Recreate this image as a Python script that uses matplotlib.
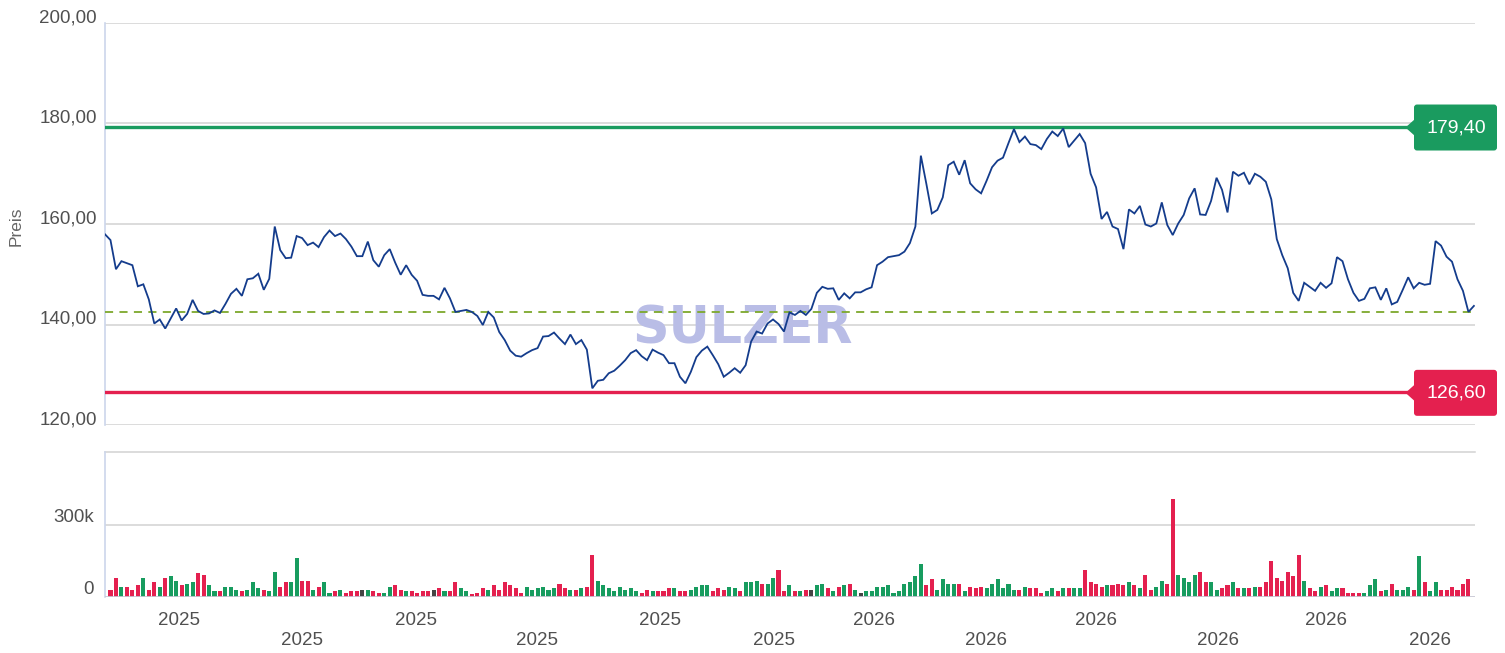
import numpy as np
import matplotlib
matplotlib.use('Agg')
import matplotlib.pyplot as plt
from matplotlib.patches import Polygon, FancyBboxPatch
from matplotlib.transforms import ScaledTranslation, blended_transform_factory, IdentityTransform

plt.rcParams['font.family'] = ['Liberation Sans', 'DejaVu Sans']

# ---------------- data ----------------
price = [
    157.95, 156.8, 151.0, 152.6, 152.2, 151.8, 147.6, 148.0, 145.0, 140.2,
    141.0, 139.2, 141.2, 143.2, 140.8, 142.1, 144.9, 142.7, 142.1, 142.2,
    142.8, 142.3, 144.1, 146.1, 147.1, 145.7, 149.0, 149.2, 150.1, 146.9,
    149.1, 159.5, 154.8, 153.2, 153.3, 157.6, 157.2, 155.8, 156.3, 155.4,
    157.4, 158.7, 157.6, 158.1,
    157.0, 155.5, 153.6, 153.6, 156.5, 152.8, 151.5, 153.8, 155.0, 152.3,
    149.9, 151.8, 149.9, 148.7, 145.9, 145.7, 145.7, 145.0, 147.3, 145.2,
    142.5, 142.7, 142.9, 142.5, 141.7, 139.9, 142.5, 141.4, 138.5, 136.9,
    134.8, 133.8, 133.6, 134.3, 134.9, 135.3, 137.6, 137.7, 138.4, 137.2,
    136.1, 138.0, 136.1,
    136.9, 135.0, 127.3, 128.8, 129.0, 130.3, 130.8, 131.8, 132.9, 134.3,
    134.9, 133.7, 132.9, 135.0, 134.4, 133.9, 132.3, 132.3, 129.6, 128.3,
    130.6, 133.5, 134.8, 135.6, 133.9, 132.1, 129.6, 130.4, 131.3, 130.4,
    131.9, 136.6, 138.6, 138.2, 140.2, 141.0, 140.1, 138.6, 142.4, 141.9,
    142.7, 141.9,
    143.1, 146.3, 147.5, 147.1, 147.2, 144.9, 146.2, 145.2, 146.4, 146.4,
    147.0, 147.4, 151.8, 152.5, 153.4, 153.6, 153.8, 154.5, 156.2, 159.5,
    173.6, 168.0, 162.1, 162.8, 165.3, 171.7, 172.4, 169.8, 172.7, 168.1,
    166.9, 166.1, 168.6, 171.3, 172.6, 173.2, 176.1, 178.9, 176.3, 177.4,
    175.9, 175.7, 174.9,
    176.9, 178.4, 177.5, 179.0, 175.3, 176.6, 177.9, 176.1, 170.0, 167.3,
    161.0, 162.4, 159.5, 159.0, 155.0, 162.9, 162.1, 163.6, 159.9, 159.5,
    160.1, 164.3, 159.8, 157.8, 160.1, 161.8, 165.1, 167.1, 161.9, 161.8,
    164.6, 169.2, 166.8, 162.3, 170.4, 169.6, 170.2, 167.9, 170.0, 169.4,
    168.4, 164.9,
    157.0, 153.8, 151.2, 146.3, 144.7, 148.3, 147.5, 146.7, 148.3, 147.3,
    148.2, 153.4, 152.6, 149.0, 146.3, 144.7, 145.1, 147.2, 147.4, 144.9,
    147.2, 144.0, 144.5, 146.9, 149.4, 147.2, 148.3, 147.9, 148.1, 156.6,
    155.7, 153.5, 152.5, 149.0, 146.7, 142.5, 143.7,
]

volume_k = [
    28, 79, 41, 41, 28, 49, 79, 28, 62, 41,
    79, 87, 66, 49, 53, 62, 100, 91, 49, 24,
    24, 41, 41, 28, 24, 28, 62, 36, 28, 24,
    104, 41, 62, 62, 163, 66, 66, 28, 41, 62,
    15, 24, 28, 15, 24, 24, 28, 28, 24, 15,
    15, 41, 49, 28, 24, 24, 15, 24, 24, 28,
    36, 24, 24, 62, 36, 24, 11, 15, 36, 28,
    49, 28, 62, 49, 36, 15, 41, 28, 36, 41,
    28, 36, 53, 36, 28, 28, 36, 41, 175, 66,
    49, 36, 24, 41, 28, 36, 24, 15, 28, 24,
    24, 24, 36, 36, 24, 24, 28, 41, 49, 49,
    24, 36, 28, 41, 36, 24, 62, 62, 66, 53,
    53, 79, 112, 24, 49, 24, 24, 28, 28, 49,
    53, 36, 24, 41, 49, 53, 28, 15, 24, 24,
    41, 41, 49, 15, 24, 53, 62, 87, 137, 49,
    74, 28, 74, 53, 53, 53, 24, 41, 36, 41,
    36, 53, 74, 36, 53, 28, 28, 41, 36, 36,
    15, 24, 36, 24, 36, 36, 36, 36, 112, 62,
    53, 41, 49, 49, 53, 49, 62, 49, 36, 91,
    28, 41, 66, 53, 407, 91, 79, 62, 91, 104,
    62, 62, 28, 36, 49, 62, 36, 36, 36, 41,
    41, 62, 150, 79, 66, 104, 87, 175, 66, 36,
    24, 41, 49, 24, 36, 36, 15, 15, 15, 15,
    49, 74, 24, 28, 53, 28, 28, 41, 28, 171,
    62, 24, 62, 28, 28, 41, 28, 53, 74,
]

# r = down day, g = up day, k = unchanged
bar_dirs = (
    "rrgrrrgrrg" "rggrggrrgg" "rgggrgggrg" "grrggrrgrg" "grgrrrkgrr"
    "ggrrgrrrrk" "rgrrggrrrg" "rrrrrrgggg" "ggrrgrgrrg" "gggggggrrg"
    "rrrgrrgggg" "rrrggrgggr" "ggrrgrgrkg" "grgrgrgkgg" "gggggggggr"
    "rggggrgrrr" "ggggggrgrr" "rggrgrggrr" "rrgrrrgrgr" "rggrrggggr"
    "rggrrgrgrg" "rrrrrrrrgr" "rgrggrrrrg" "ggrgrgggrg" "rggrrrrrr"
)

resistance = 179.40
support = 126.60
reference_level = 142.5

price_ticks = [120, 140, 160, 180, 200]
vol_ticks = [0, 300000]
vol_tick_labels = ['0', '300k']
vol_max = 600000

year_row1 = ['2025', '2025', '2025', '2026', '2026', '2026']
year_row1_pos = [13.6, 56.8, 101.3, 140.4, 180.9, 222.9]
year_row2 = ['2025', '2025', '2025', '2026', '2026', '2026']
year_row2_pos = [35.9, 78.9, 122.1, 160.9, 203.3, 242.0]

watermark = 'SULZER'

# ---------------- layout ----------------
W, H = 1505, 653
fig = plt.figure(figsize=(W / 100, H / 100), dpi=100)
fig.patch.set_facecolor('white')

ax_l, ax_r = 105, 1475
p_top, p_bot = 23, 425
v_top, v_bot = 452.3, 597

ax = fig.add_axes([ax_l / W, 1 - p_bot / H, (ax_r - ax_l) / W, (p_bot - p_top) / H])
axv = fig.add_axes([ax_l / W, 1 - v_bot / H, (ax_r - ax_l) / W, (v_bot - v_top) / H])

n = len(price)
xmax = n - 1 + 0.2
x_price = np.arange(n)

GRID = '#d2d2d2'
AXIS_BLUE = '#ccd6eb'
TXT = '#505050'

# ---- price panel ----
ax.set_xlim(0, xmax)
ax.set_ylim(price_ticks[0], price_ticks[-1])
for t in price_ticks:
    ax.axhline(t, color=GRID, lw=1.1, zorder=1)
ax.axhline(resistance, color='#1a9b5f', lw=2.4, zorder=3)
ax.axhline(support, color='#e4204f', lw=2.4, zorder=3)
ax.axhline(reference_level, color='#7da82c', lw=1.3, ls=(0, (4.5, 3.5)), zorder=3)
ax.text((743 - ax_l) / (ax_r - ax_l), (p_bot - 329) / (p_bot - p_top), watermark,
        transform=ax.transAxes, ha='center', va='center', fontsize=36.5,
        fontweight='heavy', family='DejaVu Sans', color='#b9bde6', zorder=2)
ax.plot(x_price, price, color='#143c8c', lw=1.3, zorder=5, solid_joinstyle='miter')

for s in ['top', 'right', 'bottom']:
    ax.spines[s].set_visible(False)
ax.spines['left'].set_color(AXIS_BLUE)
ax.spines['left'].set_linewidth(1.2)
ax.set_xticks([])
ax.set_yticks(price_ticks, labels=[f"{t:.2f}".replace('.', ',') for t in price_ticks])
ax.tick_params(axis='y', length=0, pad=6, labelsize=13.5, labelcolor=TXT)
for lab in ax.get_yticklabels():
    lab.set_transform(lab.get_transform() + ScaledTranslation(0, 0.07, fig.dpi_scale_trans))
ax.set_ylabel('Preis', fontsize=12.5, color='#666666')
ax.yaxis.set_label_coords(-(ax_l - 24) / (ax_r - ax_l), (p_bot - 226) / (p_bot - p_top))

# ---- volume panel ----
colmap = {'r': '#e4204f', 'g': '#179c5f', 'k': '#444444'}
x_vol = np.arange(1, len(volume_k) + 1)
axv.set_xlim(0, xmax)
axv.set_ylim(0, vol_max)
axv.axhline(300000, color=GRID, lw=1.1, zorder=1)
axv.axhline(vol_max, color=GRID, lw=1.1, zorder=1, clip_on=False)
axv.bar(x_vol, np.array(volume_k) * 1000, width=0.74,
        color=[colmap[c] for c in bar_dirs], zorder=3, linewidth=0)
axv.axhline(0, color='#c7c7d4', lw=2.0, zorder=4)
for s in ['top', 'right', 'bottom']:
    axv.spines[s].set_visible(False)
axv.spines['left'].set_color(AXIS_BLUE)
axv.spines['left'].set_linewidth(1.2)
axv.set_yticks(vol_ticks, labels=vol_tick_labels)
axv.tick_params(axis='y', length=0, pad=8, labelsize=13.5, labelcolor=TXT)
for lab in axv.get_yticklabels():
    lab.set_transform(lab.get_transform() + ScaledTranslation(0, 0.09, fig.dpi_scale_trans))
axv.set_xticks([])
bt = blended_transform_factory(axv.transData, axv.transAxes)
vh = v_bot - v_top
for pos, lab in zip(year_row1_pos, year_row1):
    axv.text(pos, -(625 - v_bot) / vh, lab, transform=bt, ha='center', va='baseline',
             fontsize=13.5, color=TXT)
for pos, lab in zip(year_row2_pos, year_row2):
    axv.text(pos, -(645 - v_bot) / vh, lab, transform=bt, ha='center', va='baseline',
             fontsize=13.5, color=TXT)

# ---- level flags (pixel coordinates, origin bottom-left) ----
def level_px(v):
    return p_bot - (v - price_ticks[0]) * (p_bot - p_top) / (price_ticks[-1] - price_ticks[0])

def flag(value, color):
    yc = H - (level_px(value) + 1)
    box = FancyBboxPatch((1414, yc - 23), 83, 46, boxstyle='round,pad=0,rounding_size=3',
                         transform=IdentityTransform(), facecolor=color, edgecolor='none',
                         zorder=10)
    tri = Polygon([(1405.5, yc), (1415, yc + 8.5), (1415, yc - 8.5)], closed=True,
                  transform=IdentityTransform(), facecolor=color, edgecolor='none', zorder=10)
    fig.patches.extend([box, tri])
    fig.text(1456 / W, yc / H, f"{value:.2f}".replace('.', ','), color='white',
             fontsize=14, ha='center', va='center', zorder=11)

flag(resistance, '#1a9b5f')
flag(support, '#e4204f')

fig.savefig('out.png', dpi=100, facecolor='white')
